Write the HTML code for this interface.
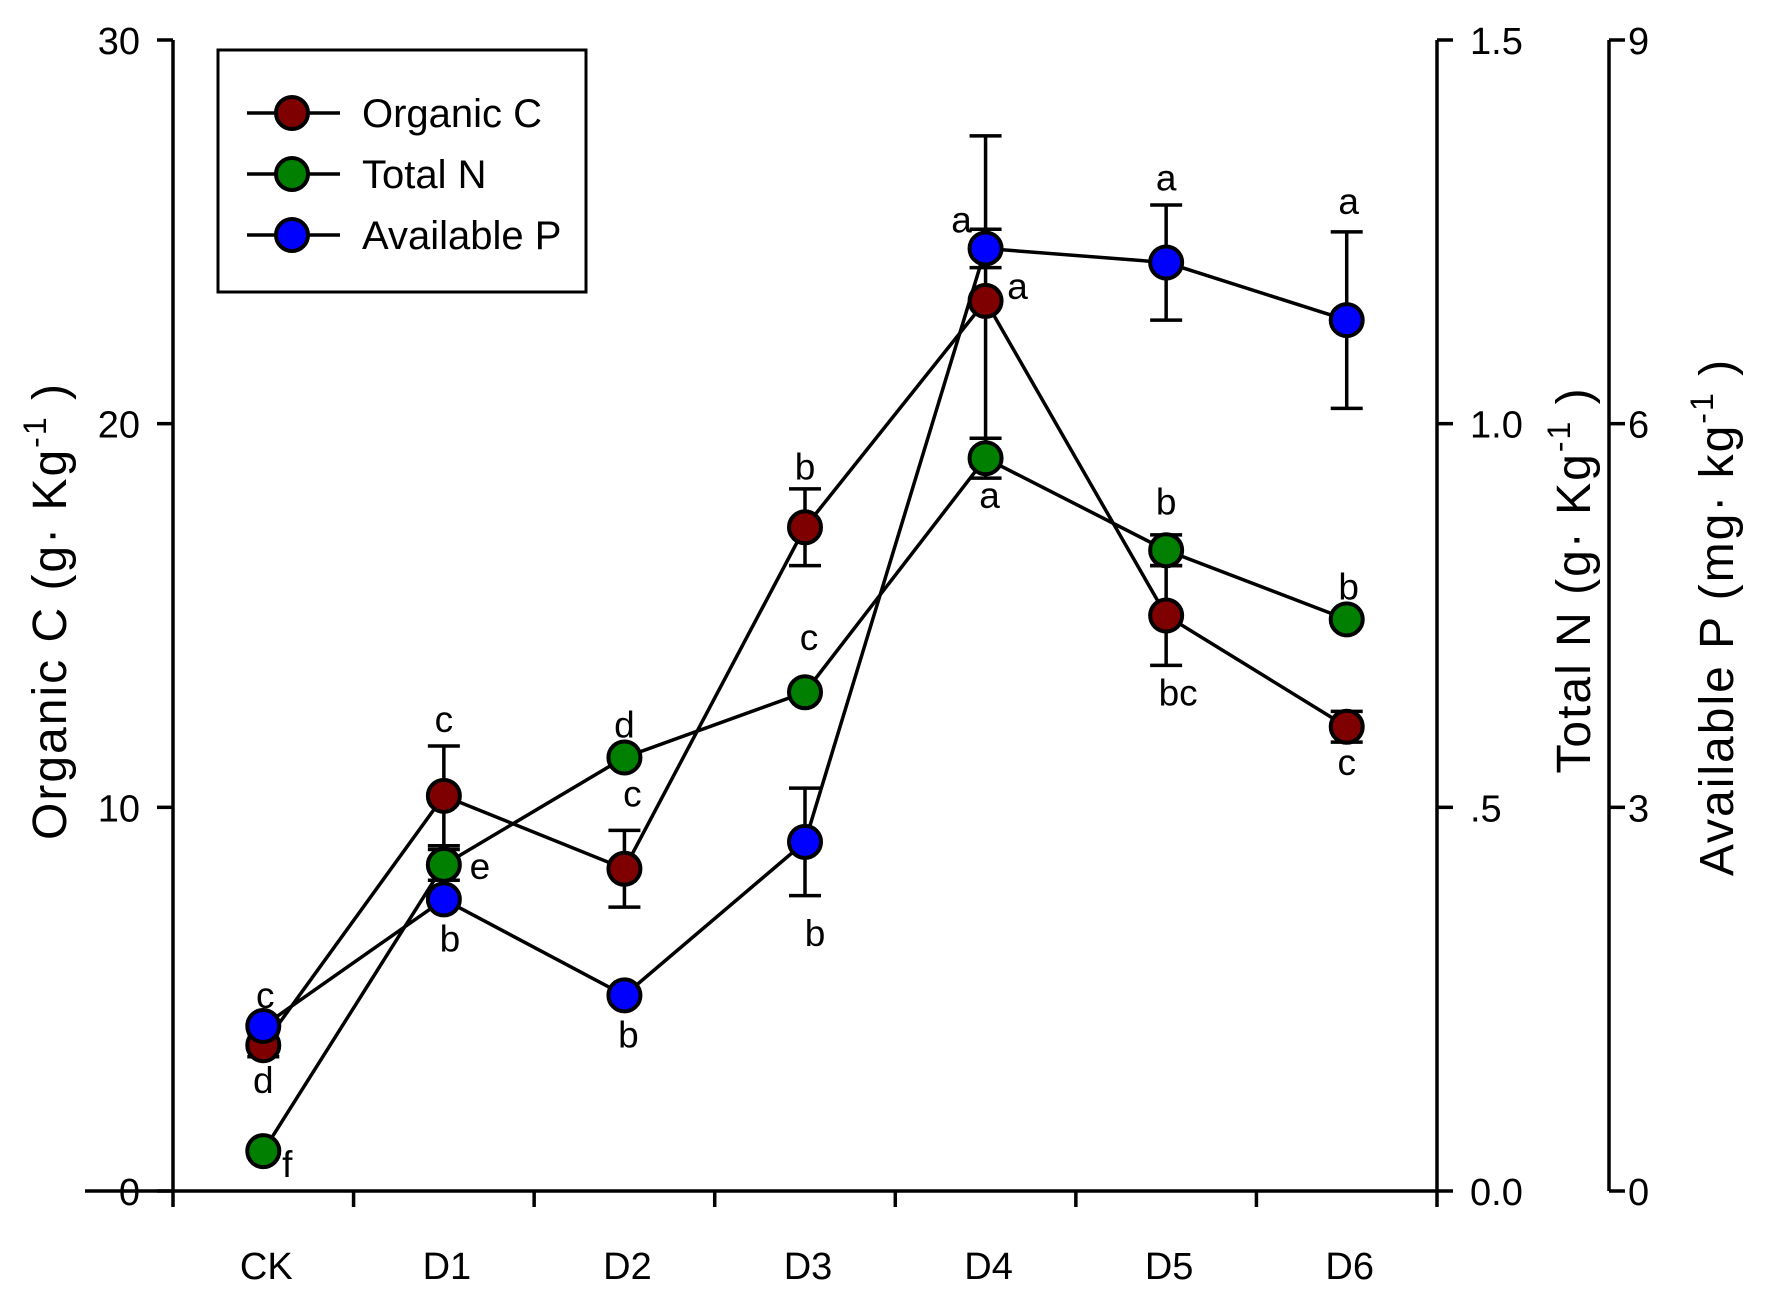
<!DOCTYPE html>
<html><head><meta charset="utf-8"><style>
html,body{margin:0;padding:0;background:#fff;}
svg{display:block;font-family:"Liberation Sans",Arial,sans-serif;}
</style></head><body>
<svg id="chart" width="1774" height="1302" viewBox="0 0 1774 1302">
<g id="axes"></g>
<g id="series"></g>
<g id="legend">
  <rect x="218" y="50" width="368" height="242" fill="#fff" stroke="#000" stroke-width="3"/>
</g>
</svg>
<script>
const categories = ["CK","D1","D2","D3","D4","D5","D6"];
const organicC = [3.8,10.3,8.4,17.3,23.2,15.0,12.1];
const organicCErr = [0.3,1.3,1.0,1.0,4.3,1.3,0.4];
const organicCLetters = ["d","c","c","b","a","bc","c"];
const totalN = [0.052,0.425,0.565,0.65,0.955,0.835,0.745];
const totalNErr = [0.0,0.02,0.0,0.0,0.026,0.02,0.0];
const totalNLetters = ["f","e","d","c","a","b","b"];
const availP = [1.29,2.28,1.53,2.73,7.37,7.26,6.81];
const availPErr = [0.0,0.0,0.0,0.42,0.15,0.45,0.69];
const availPLetters = ["c","b","b","b","a","a","a"];
const leftTicks = [0,10,20,30];
const nTicks = [0,0.5,1.0,1.5];
const nTickLabels = ["0.0",".5","1.0","1.5"];
const pTicks = [0,3,6,9];

const NS="http://www.w3.org/2000/svg";
const X0=173, XTOP=40, YB=1191, NAX=1437, PAX=1609;
const step=(NAX-X0)/7;
function xPos(i){return X0+step*(i+0.5);}
function yLeft(v){return YB-(v/30)*(YB-XTOP);}
function yN(v){return YB-(v/1.5)*(YB-XTOP);}
function yP(v){return YB-(v/9)*(YB-XTOP);}
function mk(tag,attrs,parent,text){const e=document.createElementNS(NS,tag);for(const k in attrs)e.setAttribute(k,attrs[k]);if(text!==undefined)e.textContent=text;parent.appendChild(e);return e;}
const axes=document.getElementById('axes');
const series=document.getElementById('series');
const legend=document.getElementById('legend');
const S={stroke:"#000","stroke-width":3.5};

let l=mk('line',{x1:X0,y1:XTOP,x2:X0,y2:YB,...S},axes);


leftTicks.forEach(v=>{const y=yLeft(v);
  mk('line',{x1:X0-16,y1:y,x2:X0,y2:y,...S},axes);
  const t=mk('text',{x:140,y:y+14,"text-anchor":"end","font-size":38},axes,String(v));
  
  
});
l=mk('line',{x1:85,y1:YB,x2:NAX,y2:YB,...S},axes);


for(let i=0;i<=7;i++){const x=X0+step*i;mk('line',{x1:x,y1:YB,x2:x,y2:YB+16,...S},axes);}
categories.forEach((c,i)=>{
  const t=mk('text',{x:xPos(i)+3,y:1279,"text-anchor":"middle","font-size":38},axes,c);
  
  
});
l=mk('line',{x1:NAX,y1:XTOP,x2:NAX,y2:YB,...S},axes);


nTicks.forEach((v,i)=>{const y=yN(v);
  mk('line',{x1:NAX,y1:y,x2:NAX+16,y2:y,...S},axes);
  const t=mk('text',{x:1470,y:y+14,"font-size":38},axes,nTickLabels[i]);
  
  
});
l=mk('line',{x1:PAX,y1:XTOP,x2:PAX,y2:YB,...S},axes);


pTicks.forEach(v=>{const y=yP(v);
  mk('line',{x1:PAX,y1:y,x2:PAX+16,y2:y,...S},axes);
  const t=mk('text',{x:1628,y:y+14,"font-size":38},axes,String(v));
  
  
});
function title(x,y,name,main,unit){
  const t=mk('text',{x:x,y:y,"text-anchor":"middle","font-size":48,"letter-spacing":2,transform:`rotate(-90 ${x} ${y})`},axes);
  
  
  mk('tspan',{},t,main+" ("+unit+"\u00b7  Kg");
  mk('tspan',{dy:-20,"font-size":32},t,"-1");
  mk('tspan',{dy:20},t," )");
}
title(66,611,'left-y-axis-title','Organic C','g');
title(1590,580,'total-n-axis-title','Total N','g');
const pt=mk('text',{x:1733,y:617,"text-anchor":"middle","font-size":48,"letter-spacing":2,transform:"rotate(-90 1733 617)"},axes);


mk('tspan',{},pt,"Available P (mg\u00b7  kg");
mk('tspan',{dy:-20,"font-size":32},pt,"-1");
mk('tspan',{dy:20},pt," )");

const organicCOff=[[0,36],[0,-76],[8,-74],[0,-60],[32,-14],[12,78],[0,36]];
const totalNOff=[[24,14],[36,2],[0,-32],[4,-54],[4,38],[0,-48],[2,-32]];
const availPOff=[[2,-30],[6,40],[4,40],[10,92],[-24,-28],[0,-84],[2,-118]];
function draw(name,vals,errs,letters,offs,yf,color){
  const g=mk('g',{},series);
  
  
  const pts=vals.map((v,i)=>[xPos(i),yf(v)]);
  const line=mk('polyline',{points:pts.map(p=>p.join(',')).join(' '),fill:"none",...S},g);
  
  
  vals.forEach((v,i)=>{
    if(errs[i]>0){const x=pts[i][0],y1=yf(v+errs[i]),y2=yf(v-errs[i]);
      const e=mk('path',{d:`M${x},${y1}V${y2}M${x-16},${y1}H${x+16}M${x-16},${y2}H${x+16}`,fill:"none",...S},g);
      
      }
  });
  vals.forEach((v,i)=>{
    const c=mk('circle',{cx:pts[i][0],cy:pts[i][1],r:16,fill:color,stroke:"#000","stroke-width":4},g);
    
    
    const t=mk('text',{x:pts[i][0]+offs[i][0],y:pts[i][1]+offs[i][1]+12,"text-anchor":"middle","font-size":37},g,letters[i]);
    
    
  });
}
draw('organic-c',organicC,organicCErr,organicCLetters,organicCOff,yLeft,"#7f0000");
draw('total-n',totalN,totalNErr,totalNLetters,totalNOff,yN,"#007f00");
draw('available-p',availP,availPErr,availPLetters,availPOff,yP,"#0000ff");

const leg=[["Organic C","#7f0000"],["Total N","#007f00"],["Available P","#0000ff"]];
leg.forEach((e,i)=>{const y=113+i*61;
  const g=mk('g',{},legend);
  
  
  mk('line',{x1:247,y1:y,x2:340,y2:y,...S},g);
  mk('circle',{cx:292,cy:y,r:16,fill:e[1],stroke:"#000","stroke-width":4},g);
  mk('text',{x:362,y:y+14,"font-size":40},g,e[0]);
});
</script>
</body></html>
